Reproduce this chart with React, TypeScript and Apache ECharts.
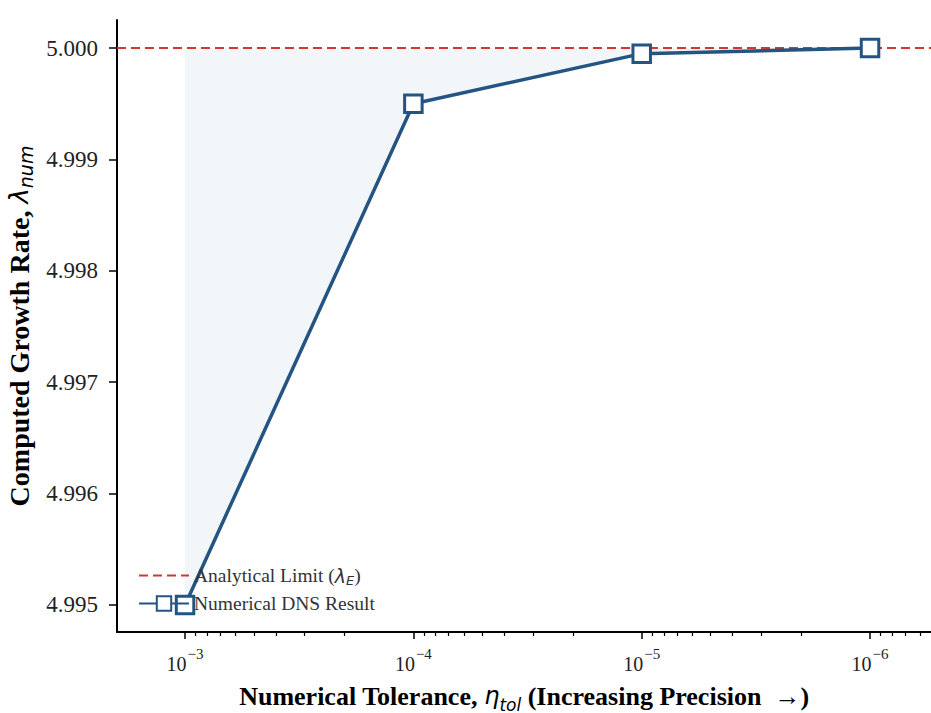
import { useEffect, useRef } from "react";
import * as echarts from "echarts";

// ---- data ----
const tolerances = [1e-3, 1e-4, 1e-5, 1e-6];
const growthRates = [4.995, 4.9995, 4.99995, 5.0];
const analyticalLimit = 5.0;
const xTickExponents = [3, 4, 5, 6]; // tick labels 10^-n
const yTicks = [4.995, 4.996, 4.997, 4.998, 4.999, 5.0];
const xExtentExp = [2.702, 6.267]; // -log10(tol) at axis ends
const yExtent = [4.994757, 5.000252];

const serif = "Liberation Serif";
const mathFont = "DejaVu Sans";

const toX = (t: number) => -Math.log10(t);

function minorTickValues(): number[] {
  const out: number[] = [];
  for (let e = 2; e <= 7; e++) {
    for (let m = 2; m <= 9; m++) {
      const v = e - Math.log10(m);
      if (v > xExtentExp[0] && v < xExtentExp[1]) out.push(v);
    }
  }
  return out;
}

export default function App() {
  const ref = useRef<HTMLDivElement>(null);
  useEffect(() => {
    if (!ref.current) return;
    const chart = echarts.init(ref.current, null, { renderer: "svg" });
    const dns = tolerances.map((t, i) => [toX(t), growthRates[i]]);
    const minor = minorTickValues();

    const baseX = {
      type: "value" as const,
      min: xExtentExp[0],
      max: xExtentExp[1],
      position: "bottom" as const,
      splitLine: { show: false },
    };

    chart.setOption({
      animation: false,
      backgroundColor: "#ffffff",
      grid: {
        left: 117,
        top: 20,
        right: 0,
        bottom: 81,
        containLabel: false,
        outerBoundsMode: "none",
      },
      xAxis: [
        {
          ...baseX,
          name: "Numerical Tolerance, {m|η}{s|tol} (Increasing Precision  →)",
          nameLocation: "middle",
          nameGap: 51,
          nameTextStyle: {
            fontFamily: serif,
            fontWeight: "bold",
            fontSize: 26,
            color: "#000",
            lineHeight: 26,
            rich: {
              m: { fontFamily: mathFont, fontStyle: "italic", fontWeight: "normal", fontSize: 24, color: "#000", lineHeight: 26, verticalAlign: "middle" },
              s: { fontFamily: mathFont, fontStyle: "italic", fontWeight: "normal", fontSize: 17, color: "#000", lineHeight: 26, verticalAlign: "bottom", padding: [0, 0, -4, 0] },
            },
          },
          axisLine: { show: true, onZero: false, lineStyle: { color: "#000", width: 2 } },
          axisTick: { show: true, customValues: xTickExponents, length: 7, lineStyle: { color: "#000", width: 1.5 } },
          axisLabel: {
            show: true,
            customValues: xTickExponents,
            margin: 14,
            formatter: (v: number) => `{b|10}{sup|−${Math.round(v)}}`,
            rich: {
              b: { fontFamily: serif, fontSize: 20, color: "#222", lineHeight: 28, verticalAlign: "bottom" },
              sup: { fontFamily: serif, fontSize: 15, color: "#222", lineHeight: 16, verticalAlign: "top", padding: [0, 0, 0, 1] },
            },
          },
        },
        {
          ...baseX,
          axisLine: { show: false },
          axisLabel: { show: false },
          axisTick: { show: true, customValues: minor, length: 4, lineStyle: { color: "#000", width: 1.2 } },
        },
      ],
      yAxis: {
        type: "value",
        min: yExtent[0],
        max: yExtent[1],
        name: "Computed Growth Rate, {m|λ}{s|num}",
        nameLocation: "middle",
        nameGap: 77,
        nameTextStyle: {
          fontFamily: serif,
          fontWeight: "bold",
          fontSize: 28,
          color: "#000",
          lineHeight: 32,
          rich: {
            m: { fontFamily: mathFont, fontStyle: "italic", fontWeight: "normal", fontSize: 26, color: "#000", lineHeight: 32, verticalAlign: "middle" },
            s: { fontFamily: mathFont, fontStyle: "italic", fontWeight: "normal", fontSize: 19, color: "#000", lineHeight: 32, verticalAlign: "bottom" },
          },
        },
        splitLine: { show: false },
        axisLine: { show: true, onZero: false, lineStyle: { color: "#000", width: 2 } },
        axisTick: { show: true, customValues: yTicks, length: 8, lineStyle: { color: "#000", width: 1.5 } },
        axisLabel: {
          show: true,
          customValues: yTicks,
          margin: 19,
          formatter: (v: number) => v.toFixed(3),
          fontFamily: serif,
          fontSize: 23,
          color: "#222",
        },
      },
      legend: {
        left: 133,
        top: 559,
        orient: "vertical",
        itemGap: 5,
        itemWidth: 50,
        itemHeight: 18,
        data: [
          { name: "Analytical Limit", itemStyle: { opacity: 0 } },
          { name: "Numerical DNS Result" },
        ],
        formatter: (name: string) =>
          name === "Analytical Limit" ? "Analytical Limit ({m|λ}{s|E})" : name,
        textStyle: {
          fontFamily: serif,
          fontSize: 19.5,
          color: "#333",
          lineHeight: 23,
          rich: {
            m: { fontFamily: mathFont, fontStyle: "italic", fontSize: 19, color: "#333", lineHeight: 23, verticalAlign: "middle" },
            s: { fontFamily: mathFont, fontStyle: "italic", fontSize: 13, color: "#333", lineHeight: 23, verticalAlign: "bottom" },
          },
        },
      },
      series: [
        {
          name: "fill",
          type: "line",
          xAxisIndex: 0,
          data: dns,
          symbol: "none",
          silent: true,
          lineStyle: { width: 0, opacity: 0 },
          areaStyle: { origin: analyticalLimit, color: "rgba(36,84,130,0.08)" },
          z: 1,
        },
        {
          name: "Analytical Limit",
          type: "line",
          xAxisIndex: 0,
          data: [
            [xExtentExp[0], analyticalLimit],
            [xExtentExp[1], analyticalLimit],
          ],
          symbol: "none",
          lineStyle: { color: "#d0392b", width: 2, type: [9, 5] },
          itemStyle: { color: "#d0392b" },
          z: 2,
        },
        {
          name: "Numerical DNS Result",
          type: "line",
          xAxisIndex: 0,
          data: dns,
          symbol: "rect",
          symbolSize: 17.5,
          lineStyle: { color: "#245482", width: 3.5 },
          itemStyle: { color: "#ffffff", borderColor: "#245482", borderWidth: 3 },
          z: 3,
        },
      ],
    });
    return () => chart.dispose();
  }, []);

  return (
    <div
      ref={ref}
      style={{ position: "fixed", left: 0, top: 0, width: 931, height: 713 }}
    />
  );
}
